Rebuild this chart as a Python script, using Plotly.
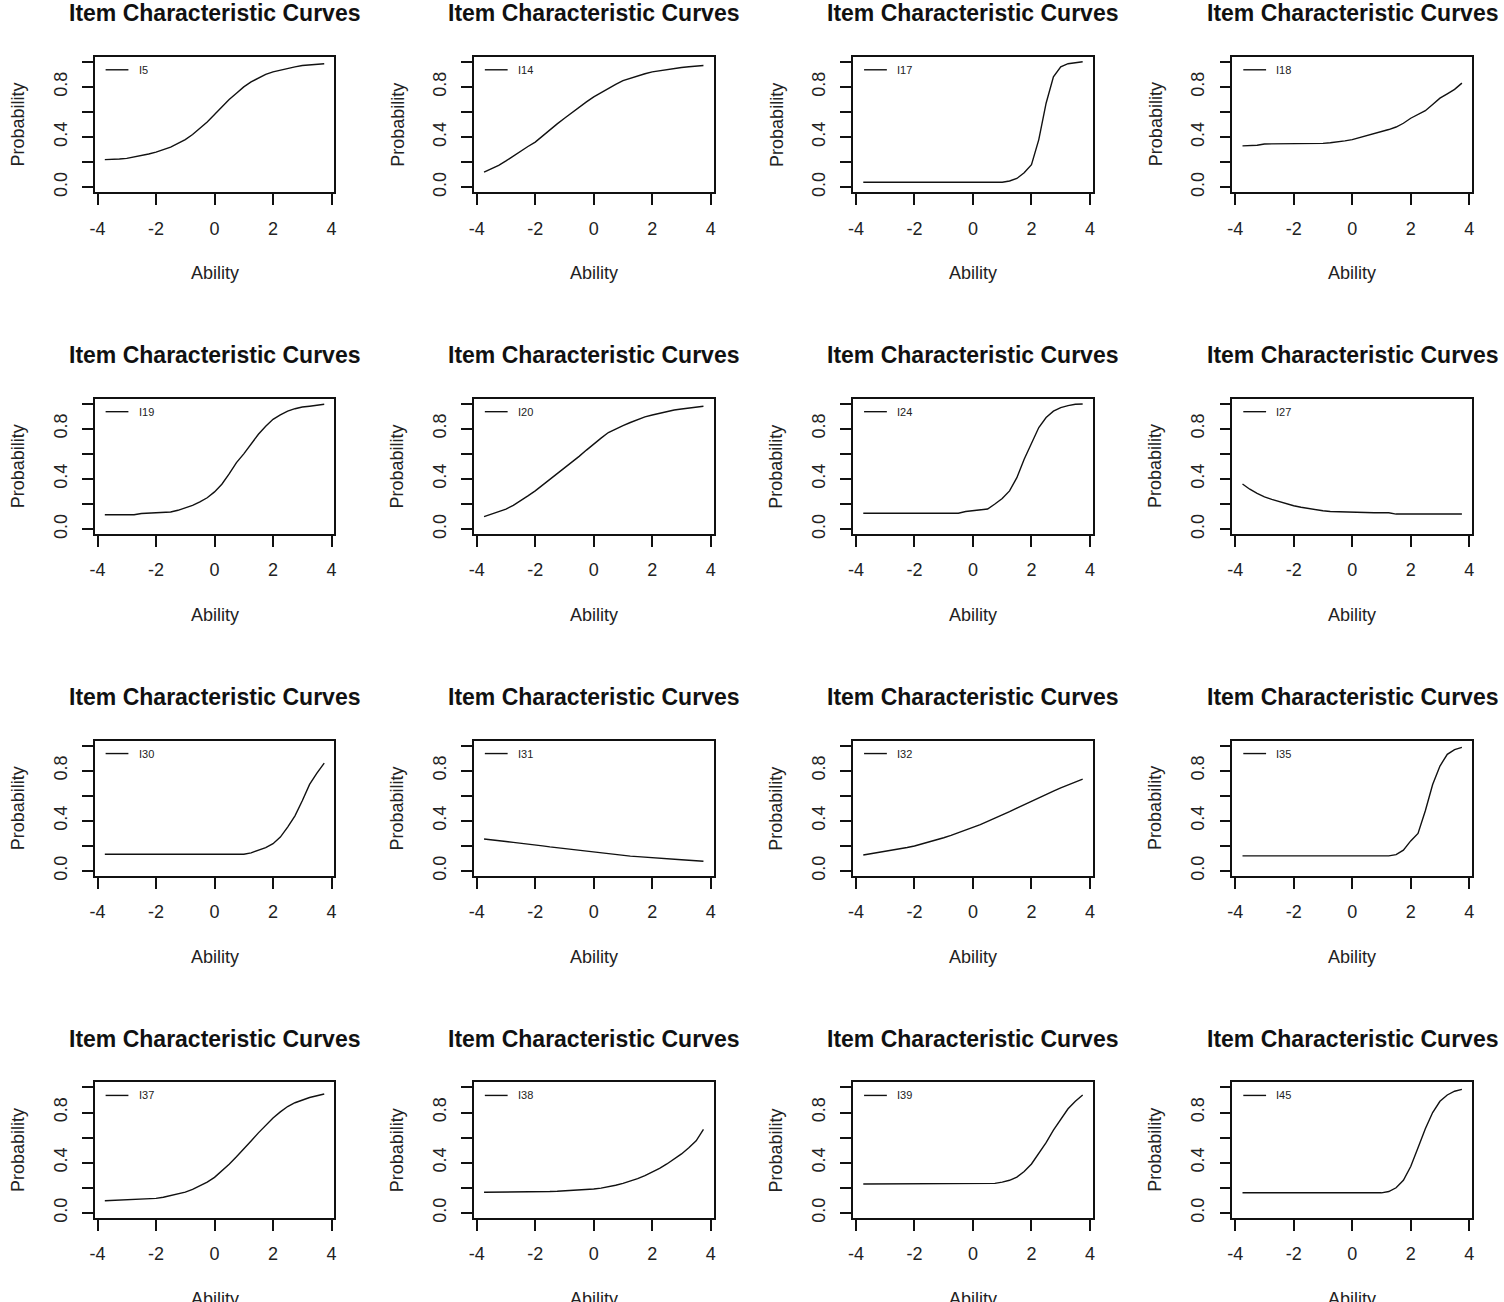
import plotly.graph_objects as go

# ability grid shared by every item curve
ABILITY = [-3.75, -3.5, -3.25, -3.0, -2.75, -2.5, -2.25, -2.0, -1.75, -1.5, -1.25,
           -1.0, -0.75, -0.5, -0.25, 0.0, 0.25, 0.5, 0.75, 1.0, 1.25, 1.5, 1.75,
           2.0, 2.25, 2.5, 2.75, 3.0, 3.25, 3.5, 3.75]

# probability of a correct answer
I5 = [0.22, 0.22, 0.225, 0.23, 0.24, 0.25, 0.265, 0.28, 0.30, 0.32, 0.35, 0.38, 0.42, 0.47, 0.52, 0.58,
      0.64, 0.70, 0.75, 0.80, 0.84, 0.87, 0.90, 0.92, 0.935, 0.95, 0.96, 0.97, 0.975, 0.98, 0.985]
I14 = [0.12, 0.145, 0.175, 0.21, 0.25, 0.29, 0.325, 0.36, 0.41, 0.46, 0.505, 0.55, 0.595, 0.64, 0.68, 0.72,
       0.755, 0.79, 0.82, 0.85, 0.87, 0.89, 0.905, 0.92, 0.93, 0.94, 0.95, 0.955, 0.96, 0.965, 0.97]
I17 = [0.04, 0.04, 0.04, 0.04, 0.04, 0.04, 0.04, 0.04, 0.04, 0.04, 0.04, 0.04, 0.04, 0.04, 0.04, 0.04,
       0.04, 0.04, 0.04, 0.04, 0.05, 0.07, 0.115, 0.18, 0.38, 0.67, 0.88, 0.96, 0.985, 0.99, 1.0]
I18 = [0.33, 0.33, 0.335, 0.345, 0.345, 0.345, 0.345, 0.345, 0.345, 0.345, 0.35, 0.35, 0.355, 0.36, 0.37, 0.38,
       0.395, 0.41, 0.425, 0.44, 0.46, 0.48, 0.51, 0.55, 0.58, 0.61, 0.66, 0.71, 0.745, 0.78, 0.83]
I19 = [0.115, 0.115, 0.115, 0.115, 0.115, 0.125, 0.127, 0.128, 0.13, 0.137, 0.15, 0.167, 0.19, 0.217, 0.25, 0.297,
       0.358, 0.44, 0.53, 0.60, 0.68, 0.756, 0.82, 0.875, 0.91, 0.94, 0.96, 0.973, 0.98, 0.987, 0.995]
I20 = [0.10, 0.12, 0.14, 0.16, 0.19, 0.225, 0.265, 0.305, 0.35, 0.40, 0.445, 0.49, 0.535, 0.58, 0.63, 0.68,
       0.725, 0.77, 0.80, 0.825, 0.85, 0.875, 0.895, 0.91, 0.925, 0.94, 0.95, 0.958, 0.966, 0.973, 0.98]
I24 = [0.127, 0.127, 0.127, 0.127, 0.127, 0.127, 0.127, 0.127, 0.127, 0.127, 0.127, 0.127, 0.127, 0.127, 0.14, 0.146,
       0.15, 0.16, 0.20, 0.244, 0.305, 0.41, 0.557, 0.69, 0.81, 0.89, 0.94, 0.968, 0.985, 0.995, 0.998]
I27 = [0.36, 0.318, 0.285, 0.257, 0.237, 0.22, 0.2, 0.186, 0.174, 0.164, 0.155, 0.146, 0.14, 0.138, 0.133, 0.13,
       0.13, 0.13, 0.13, 0.13, 0.13, 0.12, 0.12, 0.12, 0.12, 0.12, 0.12, 0.12, 0.12, 0.12, 0.12]
I30 = [0.134, 0.134, 0.134, 0.134, 0.134, 0.134, 0.134, 0.134, 0.134, 0.134, 0.134, 0.134, 0.134, 0.134, 0.134, 0.134,
       0.134, 0.134, 0.134, 0.134, 0.145, 0.166, 0.187, 0.218, 0.27, 0.35, 0.44, 0.56, 0.69, 0.78, 0.86]
I31 = [0.255, 0.25, 0.243, 0.235, 0.228, 0.222, 0.215, 0.208, 0.2, 0.192, 0.185, 0.177, 0.17, 0.163, 0.157, 0.15,
       0.143, 0.137, 0.13, 0.124, 0.119, 0.115, 0.11, 0.106, 0.102, 0.098, 0.094, 0.09, 0.086, 0.082, 0.078]
I32 = [0.128, 0.137, 0.146, 0.154, 0.165, 0.176, 0.187, 0.199, 0.214, 0.23, 0.247, 0.265, 0.284, 0.304, 0.324, 0.345,
       0.37, 0.395, 0.42, 0.446, 0.474, 0.502, 0.53, 0.557, 0.584, 0.61, 0.637, 0.663, 0.687, 0.71, 0.733]
I35 = [0.121, 0.121, 0.121, 0.121, 0.121, 0.121, 0.121, 0.121, 0.121, 0.121, 0.121, 0.121, 0.121, 0.121, 0.121, 0.121,
       0.121, 0.121, 0.121, 0.121, 0.121, 0.13, 0.166, 0.24, 0.30, 0.48, 0.69, 0.837, 0.93, 0.968, 0.985]
I37 = [0.097, 0.1, 0.105, 0.108, 0.11, 0.112, 0.114, 0.116, 0.125, 0.139, 0.15, 0.165, 0.187, 0.213, 0.245, 0.283,
       0.333, 0.388, 0.447, 0.507, 0.573, 0.638, 0.70, 0.756, 0.805, 0.848, 0.878, 0.90, 0.92, 0.934, 0.948]
I38 = [0.165, 0.165, 0.165, 0.165, 0.165, 0.165, 0.165, 0.165, 0.168, 0.17, 0.172, 0.175, 0.178, 0.182, 0.186, 0.19,
       0.197, 0.207, 0.22, 0.235, 0.252, 0.273, 0.297, 0.325, 0.355, 0.39, 0.43, 0.47, 0.52, 0.575, 0.665]
I39 = [0.23, 0.23, 0.23, 0.23, 0.23, 0.23, 0.23, 0.23, 0.23, 0.23, 0.23, 0.23, 0.23, 0.23, 0.23, 0.23,
       0.23, 0.23, 0.235, 0.245, 0.26, 0.285, 0.33, 0.39, 0.47, 0.56, 0.66, 0.75, 0.83, 0.89, 0.94]
I45 = [0.16, 0.16, 0.16, 0.16, 0.16, 0.16, 0.16, 0.16, 0.16, 0.16, 0.16, 0.16, 0.16, 0.16, 0.16, 0.16,
       0.16, 0.16, 0.16, 0.16, 0.17, 0.2, 0.26, 0.37, 0.52, 0.67, 0.8, 0.89, 0.94, 0.97, 0.985]

ITEMS = ["I5", "I14", "I17", "I18", "I19", "I20", "I24", "I27",
         "I30", "I31", "I32", "I35", "I37", "I38", "I39", "I45"]
CURVES = [I5, I14, I17, I18, I19, I20, I24, I27, I30, I31, I32, I35, I37, I38, I39, I45]

X_TICKS = [-4, -2, 0, 2, 4]
X_TICK_TEXT = ["-4", "-2", "0", "2", "4"]
Y_TICKS = [0.0, 0.2, 0.4, 0.6, 0.8, 1.0]
Y_TICK_TEXT = ["0.0", "", "0.4", "", "0.8", ""]

TITLE = "Item Characteristic Curves"
W, H = 1504, 1302
FONT = "Liberation Sans, Arial, sans-serif"

fig = go.Figure()
layout = dict(width=W, height=H, margin=dict(l=0, r=0, t=0, b=0),
              paper_bgcolor="white", plot_bgcolor="white", showlegend=False,
              annotations=[], shapes=[])

for k, (name, probs) in enumerate(zip(ITEMS, CURVES)):
    r, c = divmod(k, 4)
    n = k + 1
    left = 90 + 381 * c
    top = 57 + 343.2 * r
    xa = "x" if n == 1 else f"x{n}"
    ya = "y" if n == 1 else f"y{n}"

    fig.add_trace(go.Scatter(x=ABILITY, y=probs, mode="lines", xaxis=xa, yaxis=ya,
                             line=dict(color="#111", width=1.4), name=name))

    axis_common = dict(showline=True, mirror=True, linecolor="#111", linewidth=1.5,
                       ticks="outside", ticklen=11, tickwidth=1.5, tickcolor="#111",
                       showgrid=False, zeroline=False, fixedrange=True,
                       tickfont=dict(family=FONT, size=18, color="#222"))
    layout[f"xaxis{n}"] = dict(axis_common, domain=[left / W, (left + 241) / W], anchor=ya,
                               range=[-4.1, 4.1], tickvals=X_TICKS, ticktext=X_TICK_TEXT,
                               ticklabelstandoff=8)
    layout[f"yaxis{n}"] = dict(axis_common, domain=[1 - (top + 136) / H, 1 - top / H], anchor=xa,
                               range=[-0.04, 1.04], tickvals=Y_TICKS, ticktext=Y_TICK_TEXT,
                               tickangle=-90, ticklabelstandoff=8)

    cx = (left + 120.5) / W
    layout["annotations"] += [
        dict(text=f"<b>{TITLE}</b>", x=cx, y=1 - (top - 44) / H, xref="paper", yref="paper",
             showarrow=False, xanchor="center", yanchor="middle",
             font=dict(family=FONT, size=23, color="#111")),
        dict(text="Ability", x=cx, y=1 - (top + 217) / H, xref="paper", yref="paper",
             showarrow=False, xanchor="center", yanchor="middle",
             font=dict(family=FONT, size=18, color="#222")),
        dict(text="Probability", x=(left - 77) / W, y=1 - (top + 68) / H, xref="paper", yref="paper",
             showarrow=False, xanchor="center", yanchor="middle", textangle=-90,
             font=dict(family=FONT, size=18, color="#222")),
        dict(text=name, x=0.175, y=0.904, xref=f"{xa} domain", yref=f"{ya} domain",
             showarrow=False, xanchor="left", yanchor="middle",
             font=dict(family=FONT, size=11, color="#222")),
    ]
    layout["shapes"].append(dict(type="line", xref=f"{xa} domain", yref=f"{ya} domain",
                                 x0=0.046, x1=0.141, y0=0.904, y1=0.904,
                                 line=dict(color="#111", width=1.4)))

fig.update_layout(**layout)
# drop the page's default body margin so the figure sits at the window's corner
fig.write_html("out.html", config={"displayModeBar": False},
               post_script="document.body.style.margin='0';document.body.style.overflow='hidden';")
